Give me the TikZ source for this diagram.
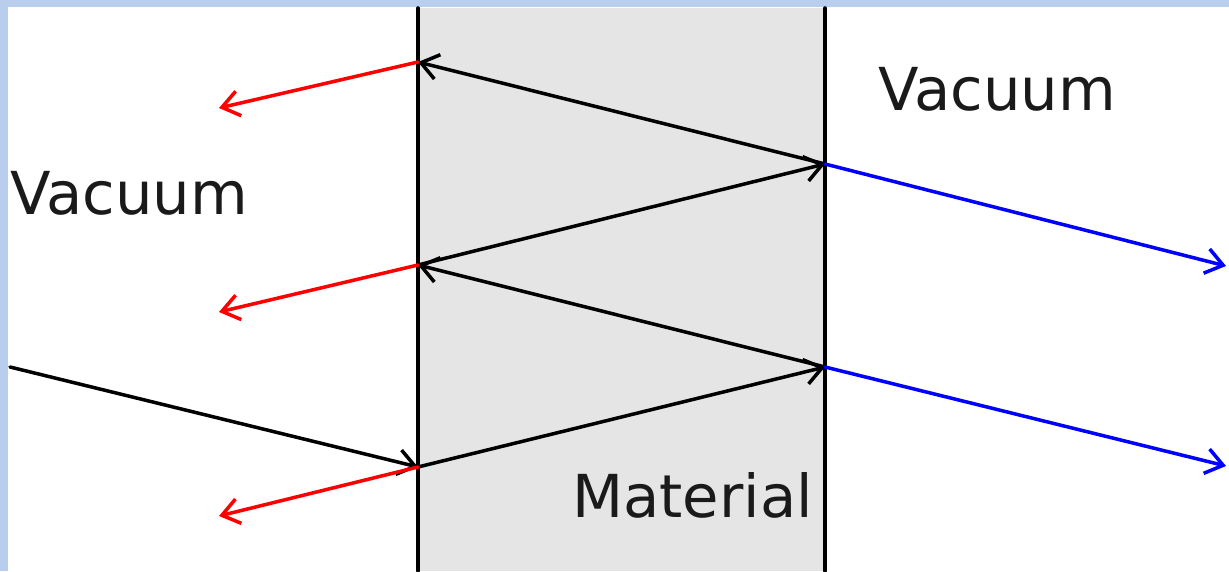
\documentclass[tikz,border=0pt]{standalone}
\usepackage{fontspec}
\setmainfont{DejaVu Sans}
\usetikzlibrary{arrows.meta}
\definecolor{framebg}{RGB}{184,206,236}
\definecolor{slab}{RGB}{229,229,229}
\definecolor{ink}{RGB}{26,26,26}
\begin{document}
\begin{tikzpicture}[x=0.02cm,y=-0.02cm,line cap=round,line join=round,>={Straight Barb[length=3.4mm,width=5mm]},every node/.style={inner sep=0pt,text=ink,font=\fontsize{33.7}{40}\selectfont}]
  \def\xl{418}
  \def\xr{825}
  \def\lw{2pt}
  \fill[framebg] (0,0) rectangle (1229,571);
  \fill[white] (8,7) rectangle (1229,571);
  \useasboundingbox (0,0) rectangle (1229,571);
  \fill[slab] (\xl,8) rectangle (\xr,571);
  \draw[line width=\lw] (\xl,8) -- (\xl,571);
  \draw[line width=\lw] (\xr,8) -- (\xr,571);
  \coordinate (a1) at (\xl,62);
  \coordinate (a2) at (\xl,265);
  \coordinate (a3) at (\xl,467);
  \coordinate (b1) at (\xr,164);
  \coordinate (b2) at (\xr,367);
  \coordinate (src) at (10,367);
  \coordinate (r1) at (219,108);
  \coordinate (r2) at (219,312);
  \coordinate (r3) at (219,516);
  \coordinate (t1) at (1226,266);
  \coordinate (t2) at (1226,466);
  % zigzag inside the slab
  \draw[->,line width=\lw] (src) -- (a3);
  \draw[->,line width=\lw] (a3) -- (b2);
  \draw[->,line width=\lw] (b2) -- (a2);
  \draw[->,line width=\lw] (a2) -- (b1);
  \draw[->,line width=\lw] (b1) -- (a1);
  % reflected and transmitted parts
  \draw[->,red,line width=\lw] (a1) -- (r1);
  \draw[->,red,line width=\lw] (a2) -- (r2);
  \draw[->,red,line width=\lw] (a3) -- (r3);
  \draw[->,blue,line width=\lw] (b1) -- (t1);
  \draw[->,blue,line width=\lw] (b2) -- (t2);
  \node[anchor=base west] (vacl) at (10,214) {Vacuum};
  \node[anchor=base west] (vacr) at (878,111) {Vacuum};
  \node[anchor=base west] (mat) at (572,517) {Material};
\end{tikzpicture}
\end{document}
